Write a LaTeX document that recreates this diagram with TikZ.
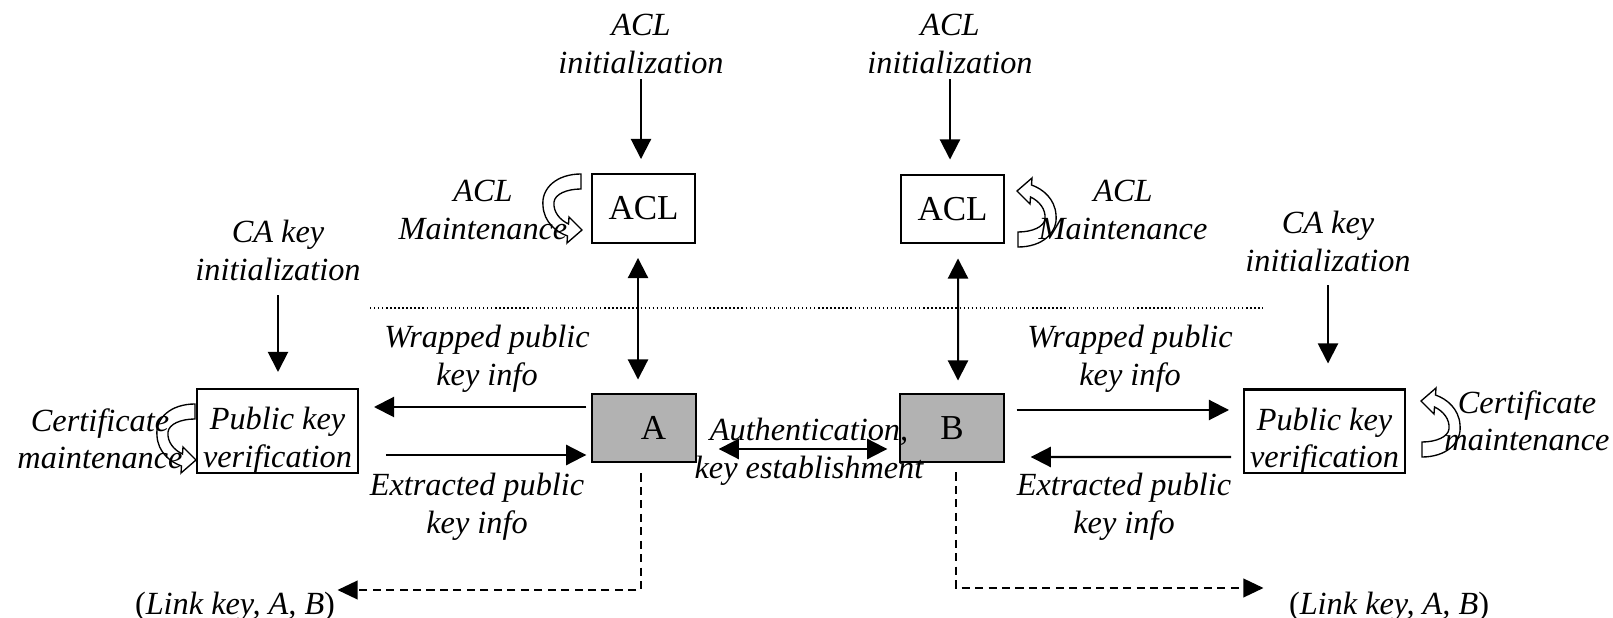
\documentclass[tikz,border=0pt]{standalone}
\usepackage{fontspec}
\setmainfont{Liberation Serif}
\usetikzlibrary{arrows.meta,calc}

\begin{document}
\begin{tikzpicture}[x=0.3715pt,y=-0.3715pt,
  every node/.style={font=\fontsize{12}{14}\selectfont},
  lbl/.style={font=\fontsize{12}{14}\selectfont\itshape, align=center, inner sep=0pt, anchor=north},
  box/.style={draw, line width=0.75pt, inner sep=0pt, minimum width=38.4pt, minimum height=25.6pt},
  party/.style={box, fill=black!30, font=\fontsize{13}{15}\selectfont},
  pkbox/.style={draw, line width=0.75pt, inner sep=0pt, minimum width=59.8pt, minimum height=31.2pt,
    label={[lbl, anchor=north, yshift=-7pt]north:{Public key\\verification}}},
  arr/.style={line width=0.75pt, -{Triangle[length=7.5pt,width=7.5pt]}},
  biarr/.style={line width=0.75pt, {Triangle[length=7.5pt,width=7.5pt]}-{Triangle[length=7.5pt,width=7.5pt]}},
  lk/.style={line width=0.6pt, dash pattern=on 3pt off 2pt, -{Triangle[length=7.5pt,width=7pt]}},
  maintarrow/.pic={
    \draw[line width=0.5pt] (0,0) .. controls (-24,0) and (-40,14) .. (-38,32)
      .. controls (-37,48) and (-25,58) .. (-13.5,62) -- (-14,69) -- (1,56) -- (-12,43) -- (-12.5,50)
      .. controls (-21,46) and (-28,38) .. (-27,28) .. controls (-26,20) and (-14,15) .. (0,15) -- cycle;
  }]
  \useasboundingbox (0,0) rectangle (1613,618);

  \node[box, font=\fontsize{13}{15}\selectfont] (aclL) at (643.5,208.5) {ACL};
  \node[box, font=\fontsize{13}{15}\selectfont] (aclR) at (952.5,209) {ACL};
  \node[party] (A) at (644,428) {\hspace{7pt}\raisebox{-1.5pt}{A}};
  \node[party] (B) at (952,428) {\raisebox{-1.5pt}{B}};
  \node[pkbox] (pkvL) at (277.5,431) {};
  \node[pkbox] (pkvR) at (1324.5,431.5) {};

  \node[lbl] (aclinitL) at (641,14) {ACL\\initialization};
  \node[lbl] (aclinitR) at (950,14) {ACL\\initialization};
  \node[lbl] (aclmtL) at (483,180) {ACL\\Maintenance};
  \node[lbl] (aclmtR) at (1123,180) {ACL\\Maintenance};
  \node[lbl] (cakeyL) at (278,220) {CA key\\initialization};
  \node[lbl] (cakeyR) at (1328,211) {CA key\\initialization};
  \node[lbl] (certL) at (100,408) {Certificate\\maintenance};
  \node[lbl] (certR) at (1527,390) {Certificate\\maintenance};
  \node[lbl] (wrapL) at (487,325) {Wrapped public\\key info};
  \node[lbl] (wrapR) at (1130,325) {Wrapped public\\key info};
  \node[lbl] (extrL) at (477,473) {Extracted public\\key info};
  \node[lbl] (extrR) at (1124,473) {Extracted public\\key info};
  \node[lbl] (auth) at (809,418) {Authentication,\\key establishment};
  \node[lbl, font=\fontsize{12}{14}\selectfont] (linkL) at (235,592) {(\textit{Link key, A, B})};
  \node[lbl, font=\fontsize{12}{14}\selectfont] (linkR) at (1389,592) {(\textit{Link key, A, B})};

  \pic at (581,174) {maintarrow};
  \pic at (195,404) {maintarrow};
  \pic[rotate=180] at (1018,247) {maintarrow};
  \pic[rotate=180] at (1422,457) {maintarrow};

  \draw[line width=0.5pt, dash pattern=on 0.5pt off 1pt] (370,308) -- (1263,308);

  \draw[arr] ($(aclinitL.south)+(0,5)$) -- ($(aclinitL.south |- aclL.north)+(0,-14)$);
  \draw[arr] ($(aclinitR.south)+(0,5)$) -- ($(aclinitR.south |- aclR.north)+(0,-14)$);
  \draw[arr] ($(cakeyL.south)+(0,14)$) -- ($(cakeyL.south |- pkvL.north)+(0,-16)$);
  \draw[arr] ($(cakeyR.south)+(0,13)$) -- ($(cakeyR.south |- pkvR.north)+(0,-25)$);
  \draw[biarr] ($(aclL.south)+(-5.5,14)$) -- ($(A.north)+(-6,-13)$);
  \draw[biarr] ($(aclR.south)+(5.5,14)$) -- ($(B.north)+(6,-12)$);
  \draw[arr] ($(A.west)+(-5,-21)$) -- ($(pkvL.east)+(15,-24)$);
  \draw[arr] ($(pkvL.east)+(27,24)$) -- ($(A.west)+(-5,27)$);
  \draw[biarr] ($(A.east)+(22,21)$) -- ($(B.west)+(-12,21)$);
  \draw[arr] ($(B.east)+(12,-18)$) -- ($(pkvR.west)+(-14,-21.5)$);
  \draw[arr] ($(pkvR.west)+(-12,25.5)$) -- ($(B.east)+(26,29)$);
  \draw[lk] ($(A.south)+(-3,10)$) |- ($(linkL.north east)+(2,-2)$);
  \draw[lk] ($(B.south)+(4,9)$) |- ($(linkR.north west)+(-25,-4)$);
\end{tikzpicture}
\end{document}
